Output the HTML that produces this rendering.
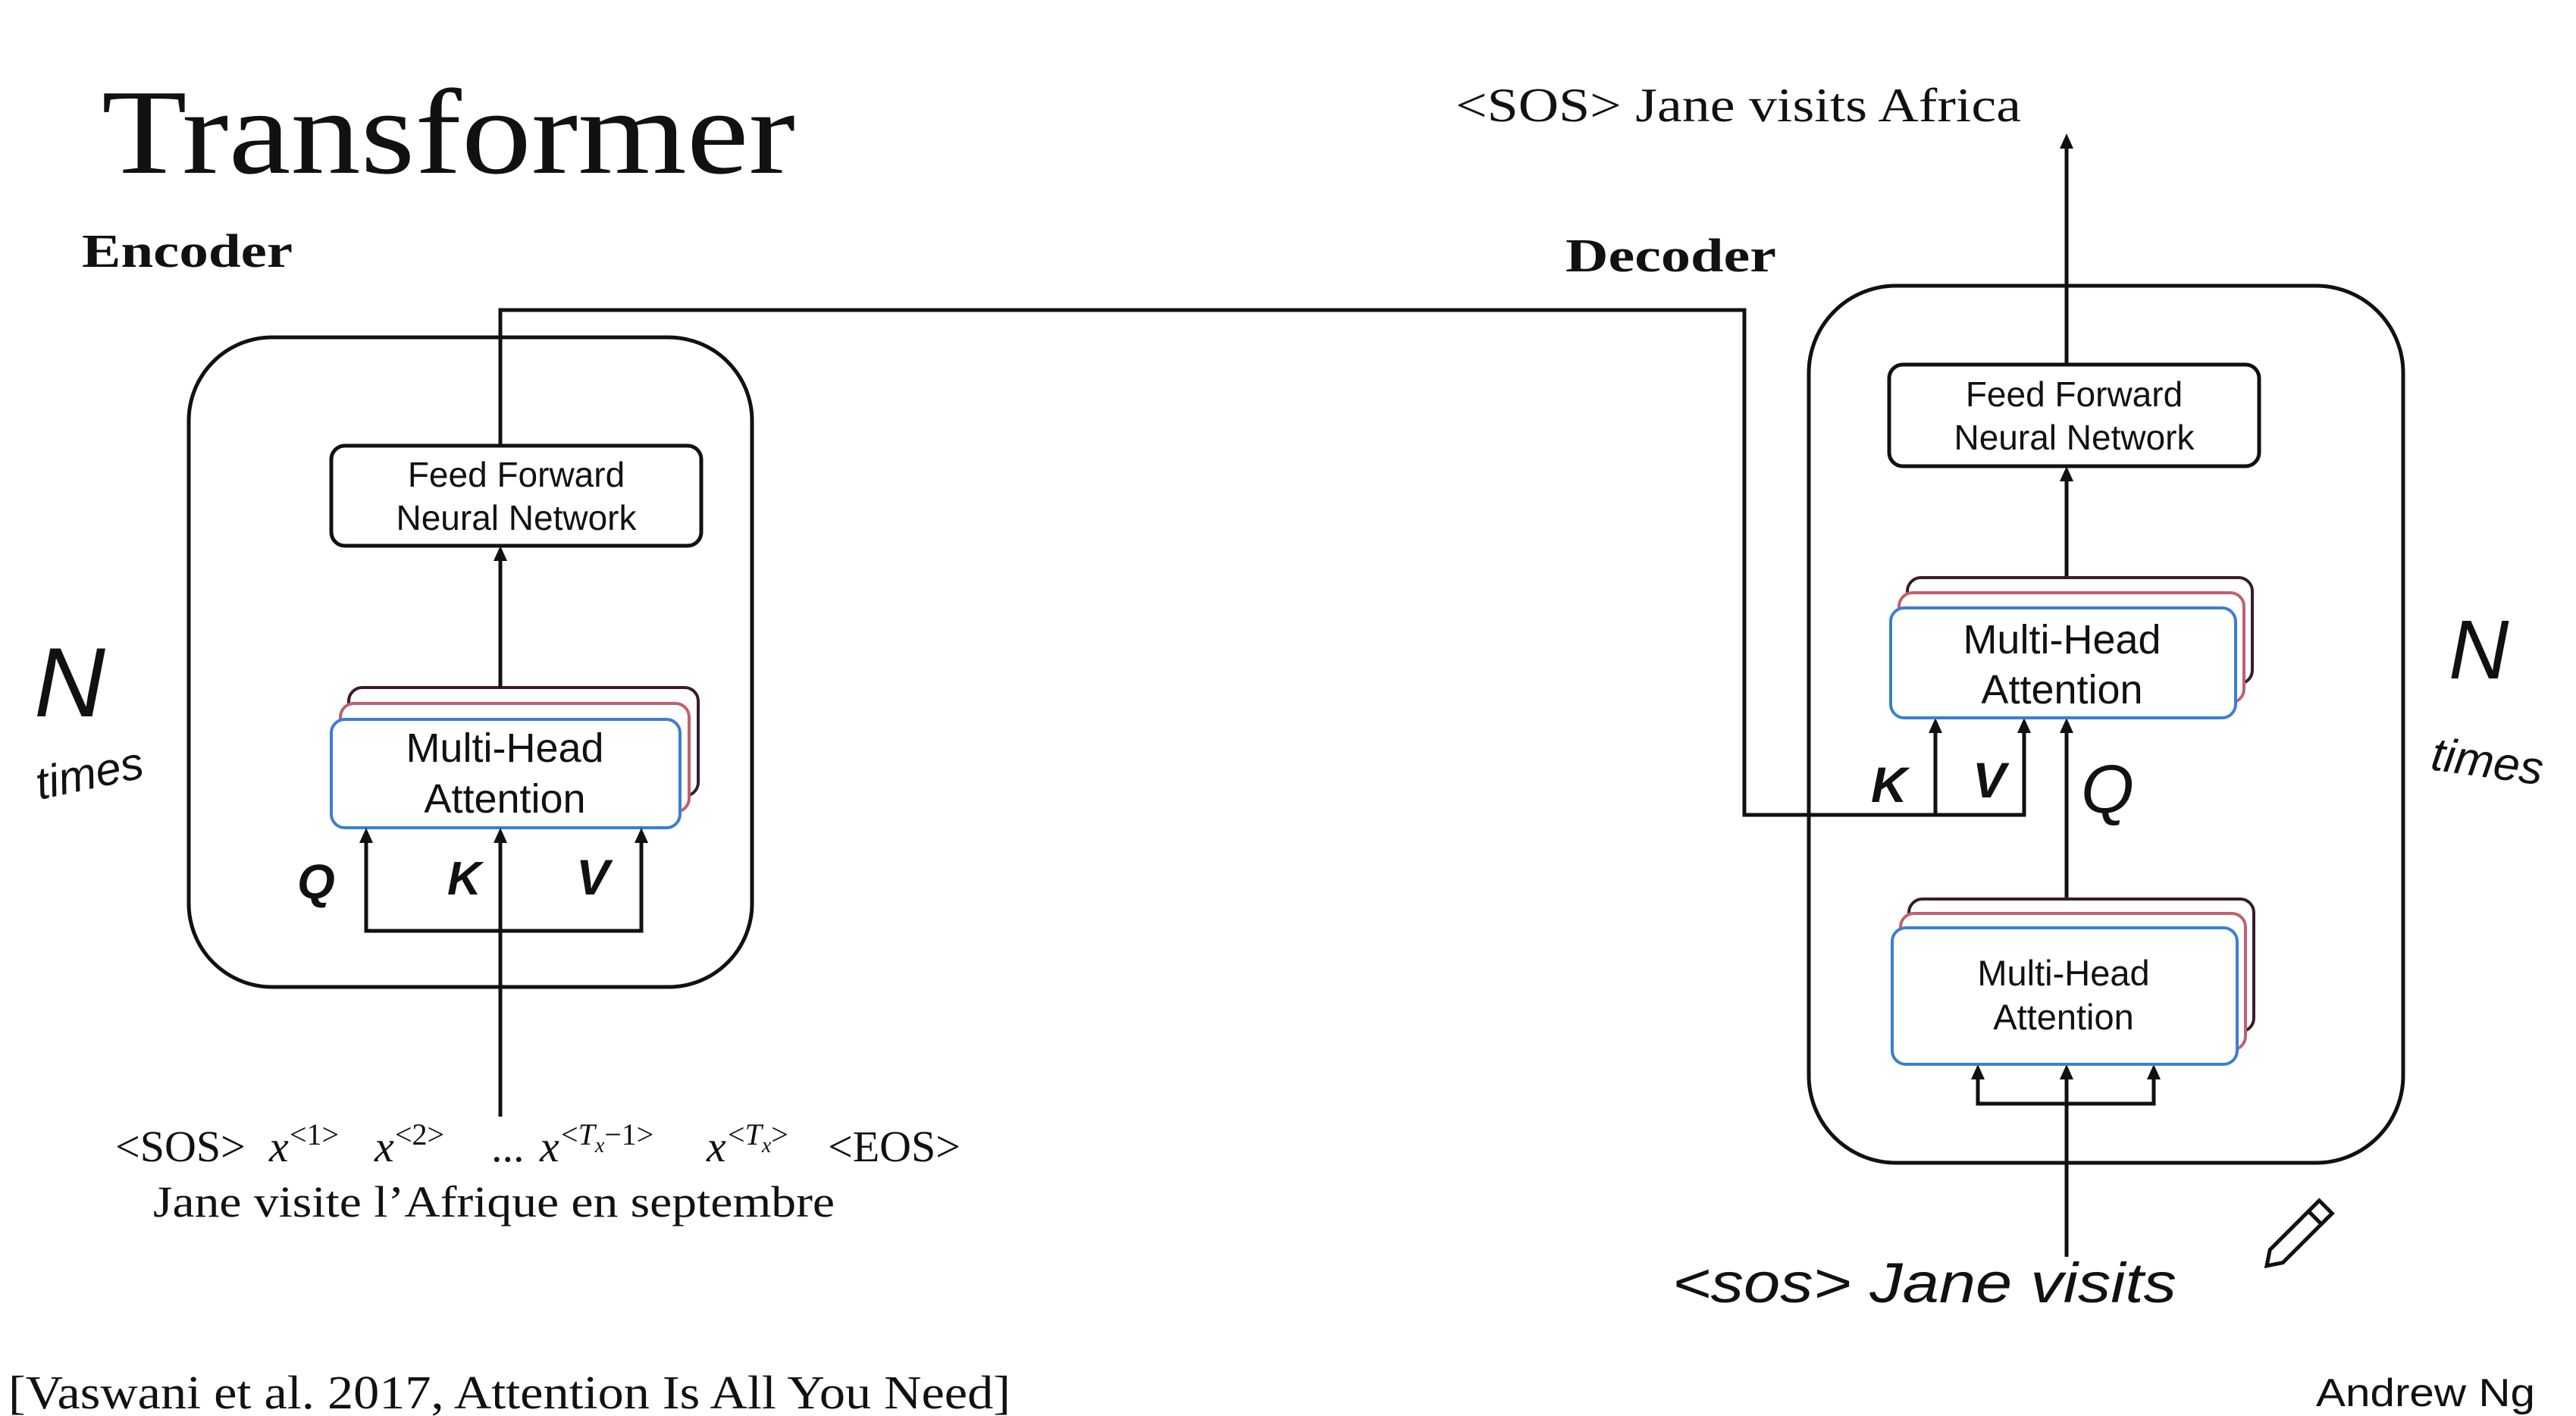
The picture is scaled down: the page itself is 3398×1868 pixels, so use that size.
<!DOCTYPE html>
<html><head><meta charset="utf-8"><style>
html,body{margin:0;padding:0;background:#fff}
svg{display:block}
.serif{font-family:"Liberation Serif",serif;fill:#111}
.sans{font-family:"Liberation Sans",sans-serif;fill:#111}
.hand{font-family:"Liberation Sans",sans-serif;fill:#111;font-style:italic}
</style></head><body>
<svg width="3398" height="1868" viewBox="0 0 3398 1868" xmlns="http://www.w3.org/2000/svg">
<rect width="3398" height="1868" fill="#fff"/>

<text class="serif" x="134" y="228" font-size="160" textLength="915" lengthAdjust="spacingAndGlyphs">Transformer</text>
<text class="serif" x="108" y="352" font-size="62" font-weight="bold" textLength="278" lengthAdjust="spacingAndGlyphs">Encoder</text>
<text class="serif" x="2065" y="358" font-size="62" font-weight="bold" textLength="278" lengthAdjust="spacingAndGlyphs">Decoder</text>
<text class="serif" x="1920" y="160" font-size="64" textLength="746" lengthAdjust="spacingAndGlyphs">&lt;SOS&gt; Jane visits Africa</text>

<rect x="249" y="445" width="743" height="857" rx="110" fill="none" stroke="#111" stroke-width="5"/>
<rect x="437" y="588" width="488" height="132" rx="18" fill="#fff" stroke="#111" stroke-width="5"/>
<text class="sans" x="681" y="642" font-size="46" text-anchor="middle">Feed Forward</text>
<text class="sans" x="681" y="699" font-size="46" text-anchor="middle">Neural Network</text>
<rect x="460" y="907" width="461" height="143" rx="18" fill="#fff" stroke="#3a1b2a" stroke-width="4"/>
<rect x="449" y="928" width="460" height="143" rx="18" fill="#fff" stroke="#c0606e" stroke-width="4"/>
<rect x="437" y="949" width="460" height="143" rx="18" fill="#fff" stroke="#3b7ed0" stroke-width="4"/>
<text class="sans" x="666" y="1005" font-size="54" text-anchor="middle">Multi-Head</text>
<text class="sans" x="666" y="1072" font-size="54" text-anchor="middle">Attention</text>

<g stroke="#111" stroke-width="5" fill="none">
<path d="M660 1473 V1100"/>
<path d="M483 1100 V1228 H846 V1100"/>
<path d="M660 907 V730"/>
<path d="M660 588 V409 H2301 V1075 H2670 V958"/>
<path d="M2553 1075 V958"/>
<path d="M2726 1658 V1414"/>
<path d="M2609 1414 V1456 H2841 V1414"/>
<path d="M2726 1202 V958"/>
<path d="M2726 760 V626"/>
<path d="M2726 481 V190"/>
</g>
<g fill="#111">
<polygon points="483,1092 474,1112 492,1112"/>
<polygon points="660,1092 651,1112 669,1112"/>
<polygon points="846,1092 837,1112 855,1112"/>
<polygon points="660,720 651,740 669,740"/>
<polygon points="2553,947 2544,967 2562,967"/>
<polygon points="2670,947 2661,967 2679,967"/>
<polygon points="2726,947 2717,967 2735,967"/>
<polygon points="2609,1404 2600,1424 2618,1424"/>
<polygon points="2726,1404 2717,1424 2735,1424"/>
<polygon points="2841,1404 2832,1424 2850,1424"/>
<polygon points="2726,615 2717,635 2735,635"/>
<polygon points="2726,176 2717,196 2735,196"/>
</g>

<rect x="2386" y="377" width="784" height="1157" rx="115" fill="none" stroke="#111" stroke-width="5"/>
<rect x="2492" y="481" width="488" height="134" rx="18" fill="#fff" stroke="#111" stroke-width="5"/>
<text class="sans" x="2736" y="536" font-size="46" text-anchor="middle">Feed Forward</text>
<text class="sans" x="2736" y="593" font-size="46" text-anchor="middle">Neural Network</text>

<rect x="2516" y="762" width="455" height="140" rx="18" fill="#fff" stroke="#3a1b2a" stroke-width="4"/>
<rect x="2505" y="782" width="455" height="145" rx="18" fill="#fff" stroke="#c0606e" stroke-width="4"/>
<rect x="2494" y="802" width="455" height="145" rx="18" fill="#fff" stroke="#3b7ed0" stroke-width="4"/>
<text class="sans" x="2720" y="862" font-size="54" text-anchor="middle">Multi-Head</text>
<text class="sans" x="2720" y="928" font-size="54" text-anchor="middle">Attention</text>

<rect x="2518" y="1186" width="455" height="175" rx="18" fill="#fff" stroke="#3a1b2a" stroke-width="4"/>
<rect x="2507" y="1205" width="455" height="180" rx="18" fill="#fff" stroke="#c0606e" stroke-width="4"/>
<rect x="2496" y="1224" width="455" height="180" rx="18" fill="#fff" stroke="#3b7ed0" stroke-width="4"/>
<text class="sans" x="2722" y="1300" font-size="47" text-anchor="middle">Multi-Head</text>
<text class="sans" x="2722" y="1358" font-size="47" text-anchor="middle">Attention</text>

<text class="hand" x="392" y="1185" font-size="64" font-weight="bold">Q</text>
<text class="hand" x="590" y="1180" font-size="62" font-weight="bold">K</text>
<text class="hand" x="760" y="1180" font-size="66" font-weight="bold">V</text>
<text class="hand" x="2468" y="1058" font-size="66" font-weight="bold">K</text>
<text class="hand" x="2602" y="1052" font-size="66" font-weight="bold">V</text>
<text class="hand" x="2745" y="1072" font-size="90">Q</text>

<text class="hand" x="45" y="945" font-size="130">N</text>
<text class="hand" x="52" y="1055" font-size="60" transform="rotate(-12 52 1055)">times</text>
<text class="hand" x="3230" y="895" font-size="110">N</text>
<text class="hand" x="3205" y="1015" font-size="62" transform="rotate(8 3205 1015)">times</text>

<text class="serif" x="152" y="1532" font-size="58">&lt;SOS&gt;</text>
<text class="serif" x="355" y="1532" font-size="58" font-style="italic">x</text>
<text class="serif" x="382" y="1510" font-size="40">&lt;1&gt;</text>
<text class="serif" x="494" y="1532" font-size="58" font-style="italic">x</text>
<text class="serif" x="521" y="1510" font-size="40">&lt;2&gt;</text>
<text class="serif" x="648" y="1532" font-size="58">...</text>
<text class="serif" x="712" y="1532" font-size="58" font-style="italic">x</text>
<text class="serif" x="740" y="1510" font-size="40">&lt;<tspan font-style="italic">T</tspan><tspan font-size="28" font-style="italic" dy="10">x</tspan><tspan dy="-10">−1&gt;</tspan></text>
<text class="serif" x="932" y="1532" font-size="58" font-style="italic">x</text>
<text class="serif" x="960" y="1510" font-size="40">&lt;<tspan font-style="italic">T</tspan><tspan font-size="28" font-style="italic" dy="10">x</tspan><tspan dy="-10">&gt;</tspan></text>
<text class="serif" x="1092" y="1532" font-size="58">&lt;EOS&gt;</text>
<text class="serif" x="202" y="1605" font-size="58" textLength="899" lengthAdjust="spacingAndGlyphs">Jane visite l’Afrique en septembre</text>

<text class="hand" x="2206" y="1718" font-size="74" textLength="665" lengthAdjust="spacingAndGlyphs">&lt;sos&gt; Jane visits</text>
<g transform="translate(2990 1670) rotate(-45)" fill="none" stroke="#111" stroke-width="5">
<path d="M0 0 L18 -12 L110 -12 L110 12 L18 12 Z"/>
<path d="M90 -12 V12"/>
</g>

<text class="serif" x="11" y="1858" font-size="62" textLength="1322" lengthAdjust="spacingAndGlyphs">[Vaswani et al. 2017, Attention Is All You Need]</text>
<text class="sans" x="3055" y="1855" font-size="52" textLength="289" lengthAdjust="spacingAndGlyphs">Andrew Ng</text>
</svg>
</body></html>
